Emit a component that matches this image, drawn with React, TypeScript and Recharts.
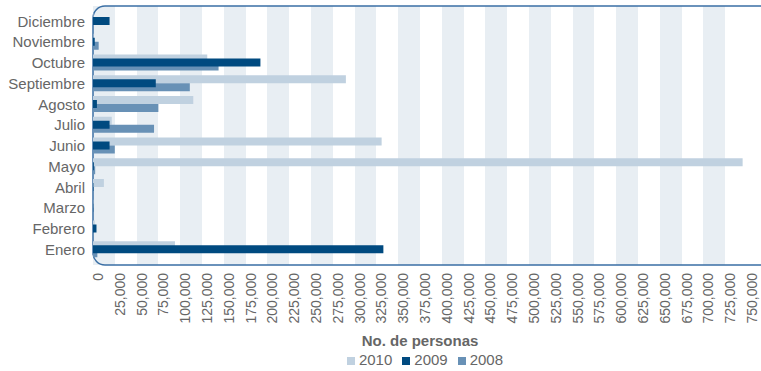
import React from 'react'
import { Bar, BarChart, CartesianGrid, Legend, ReferenceArea, XAxis, YAxis } from 'recharts'

const months = ['Enero', 'Febrero', 'Marzo', 'Abril', 'Mayo', 'Junio', 'Julio', 'Agosto', 'Septiembre', 'Octubre', 'Noviembre', 'Diciembre']
const personas2010 = [94000, 2000, 300, 12500, 745000, 331000, 21500, 115000, 290000, 131000, 500, 500]
const personas2009 = [333000, 4000, 300, 500, 1000, 19000, 19000, 4500, 72000, 192000, 2000, 19000]
const personas2008 = [5000, 1000, 300, 500, 2500, 25000, 70000, 75000, 111000, 144000, 6500, 500]
const xTicks = [
  0, 25000, 50000, 75000, 100000, 125000, 150000, 175000, 200000, 225000, 250000,
  275000, 300000, 325000, 350000, 375000, 400000, 425000, 450000, 475000, 500000,
  525000, 550000, 575000, 600000, 625000, 650000, 675000, 700000, 725000, 750000,
]

const data = months.map((mes, i) => ({
  mes,
  '2010': personas2010[i],
  '2009': personas2009[i],
  '2008': personas2008[i],
}))

const textGray = '#666666'

// rounded outline around the plot, open past the right edge like the original
const Frame = (props: any) => (
  <rect
    x={props.x}
    y={props.y - 5}
    width={props.width + 40}
    height={props.height + 10}
    rx={12}
    ry={12}
    fill="none"
    stroke="#3a6fa5"
    strokeWidth={1.5}
  />
)

export default function App() {
  return (
    <div style={{ position: 'absolute', left: 0, top: 0, width: 761, height: 371, overflow: 'hidden', fontFamily: '"Liberation Sans", Arial, sans-serif' }}>
      <BarChart
        width={761}
        height={371}
        data={data}
        layout="vertical"
        margin={{ top: 6, right: 14, bottom: 3, left: 0 }}
        barSize={8}
        barGap={-4}
      >
        <CartesianGrid horizontal={false} stroke="none" verticalFill={['#e8eef3', 'transparent']} />
        <XAxis
          type="number"
          domain={[0, 750000]}
          ticks={xTicks}
          interval={0}
          tickLine={false}
          axisLine={false}
          height={86}
          tickFormatter={(v) => v.toLocaleString('en-US')}
          tick={{ angle: -90, textAnchor: 'end', verticalAnchor: 'middle', fontSize: 14, fill: textGray }}
          label={{ value: 'No. de personas', position: 'insideBottom', offset: 5, fill: textGray, fontSize: 15, fontWeight: 'bold' }}
        />
        <YAxis
          type="category"
          dataKey="mes"
          reversed
          interval={0}
          width={93}
          padding={{ top: 5, bottom: 5 }}
          tickLine={false}
          axisLine={false}
          tick={{ fontSize: 15, fill: textGray }}
        />
        <ReferenceArea x1={0} x2={750000} ifOverflow="visible" shape={Frame} />
        <Bar dataKey="2010" fill="#c0d1e0" isAnimationActive={false} />
        <Bar dataKey="2009" fill="#004a80" isAnimationActive={false} zIndex={700} />
        <Bar dataKey="2008" fill="#6891b6" isAnimationActive={false} />
        <Legend
          verticalAlign="bottom"
          iconType="square"
          iconSize={8}
          itemSorter={(item: any) => -Number(item.value)}
          wrapperStyle={{ left: 102, width: 656, fontSize: 15 }}
          formatter={(value) => <span style={{ color: textGray }}>{value}</span>}
        />
      </BarChart>
    </div>
  )
}
